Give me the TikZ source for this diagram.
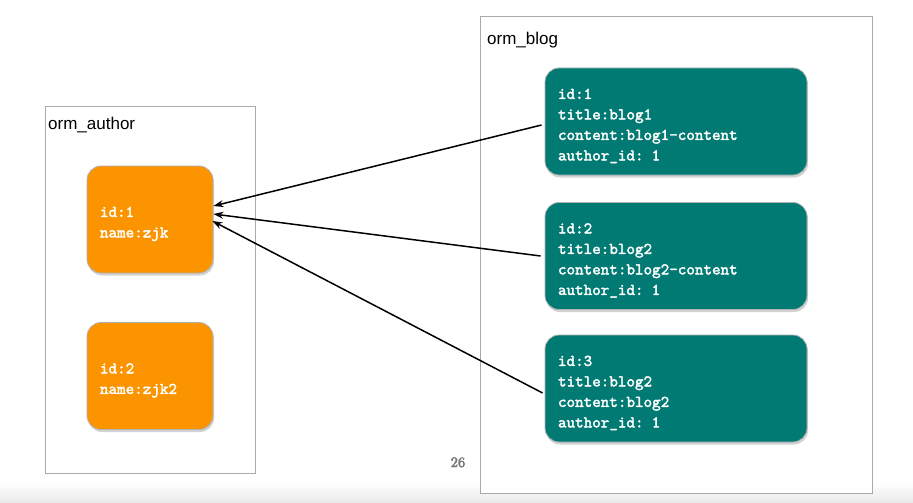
\documentclass[tikz,border=0pt]{standalone}
\usepackage{fontspec}
\newfontfamily\labelfont{Liberation Sans}
\newfontfamily\recfont[FakeBold=2.2]{lmmono10-regular.otf}
\newfontfamily\numfont[FakeBold=3]{lmroman10-regular.otf}
\usetikzlibrary{arrows.meta,shadows}
\definecolor{boxorange}{RGB}{252,148,0}
\definecolor{boxteal}{RGB}{0,122,114}
\definecolor{framegray}{RGB}{170,170,170}
\definecolor{pagenum}{RGB}{118,118,118}
\tikzset{
  container/.style={draw=framegray, line width=1pt},
  recbox/.style={rounded corners=14pt, draw=gray!60, line width=0.8pt,
    minimum height=107pt, inner xsep=13pt, inner ysep=0pt, align=left,
    text=white, font=\recfont\fontsize{16.3}{20.5}\selectfont,
    execute at begin node={\rule{0pt}{19pt}},
    drop shadow={opacity=0.35, shadow xshift=1pt, shadow yshift=-2.5pt}},
  authorbox/.style={recbox, fill=boxorange, text width=100pt},
  blogbox/.style={recbox, fill=boxteal, text width=236pt},
  tablelabel/.style={font=\labelfont\fontsize{17}{20}\selectfont, anchor=base west, inner sep=0pt},
  refarrow/.style={line width=1.5pt, -{Stealth[length=10pt,width=7pt]}}
}
\begin{document}
\begin{tikzpicture}[x=1pt,y=-1pt]
\useasboundingbox (0,0) rectangle (913,503);
\shade[top color=white, bottom color=gray!17] (0,483) rectangle (913,503);
% containers
\draw[container, fill=white] (45,106) rectangle (255,473);
\draw[container, fill=white] (480,17) rectangle (872,493);
\node[tablelabel] (la) at (48,129) {orm\_author};
\node[tablelabel] (lb) at (487,45) {orm\_blog};
% author records
\node[authorbox] (o1) at (150,219.5) {id:1\\name:zjk};
\node[authorbox] (o2) at (150,376) {id:2\\name:zjk2};
% blog records
\node[blogbox] (t1) at (676,121.5) {id:1\\title:blog1\\content:blog1-content\\author\_id: 1};
\node[blogbox] (t2) at (676,256) {id:2\\title:blog2\\content:blog2-content\\author\_id: 1};
\node[blogbox] (t3) at (676,388.5) {id:3\\title:blog2\\content:blog2\\author\_id: 1};
% references
\draw[refarrow] ([xshift=-3pt,yshift=-3.5pt]t1.west) -- ([yshift=13.5pt]o1.east);
\draw[refarrow] ([xshift=-4pt]t2.west) -- ([yshift=5.5pt]o1.east);
\draw[refarrow] ([xshift=-2pt,yshift=-4.5pt]t3.west) -- ([xshift=-1pt,yshift=-1.5pt]o1.east);
% page number
\node[font=\numfont\fontsize{14.5}{16}\selectfont, text=pagenum, anchor=base] (pg) at (458,467) {26};
\end{tikzpicture}
\end{document}
